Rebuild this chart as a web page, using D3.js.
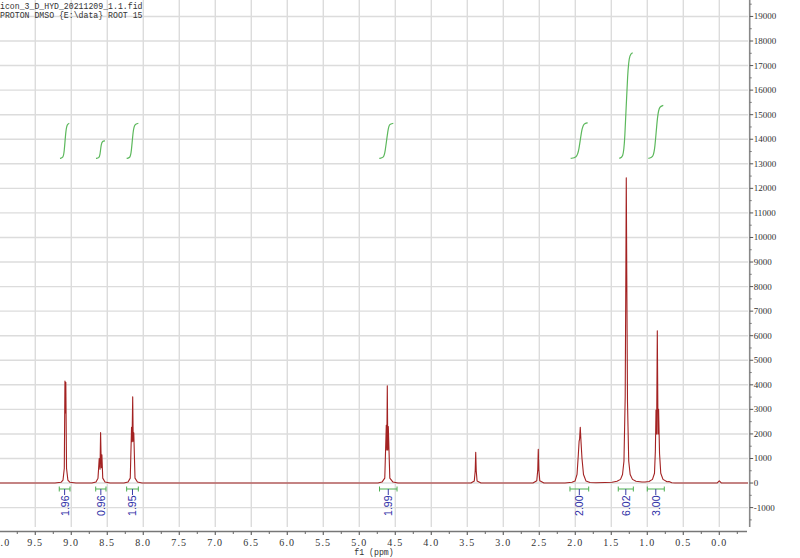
<!DOCTYPE html>
<html><head><meta charset="utf-8">
<script src="https://cdn.jsdelivr.net/npm/d3@7/dist/d3.min.js"></script>
<style>body{margin:0;background:#fff;} svg{display:block}</style>
</head><body><svg id="c" width="800" height="558"></svg>
<script>
// ---------- data ----------
const titleLines = ["icon_3_D_HYD_20211209_1.1.fid", "PROTON DMSO {E:\\data} ROOT 15"];
const xAxisTitle = "f1 (ppm)";
const ppmDomain = [9.99, -0.40];
const intensityDomain = [-1790, 19670];
const ppmMajorTicks = [10.0,9.5,9.0,8.5,8.0,7.5,7.0,6.5,6.0,5.5,5.0,4.5,4.0,3.5,3.0,2.5,2.0,1.5,1.0,0.5,0.0];
const ppmMinorTicks = [9.75,9.25,8.75,8.25,7.75,7.25,6.75,6.25,5.75,5.25,4.75,4.25,3.75,3.25,2.75,2.25,1.75,1.25,0.75,0.25,-0.25];
const intensityTicks = [-1000,0,1000,2000,3000,4000,5000,6000,7000,8000,9000,10000,11000,12000,13000,14000,15000,16000,17000,18000,19000];
const intensityMinorTicks = [-1500,-500,500,1500,2500,3500,4500,5500,6500,7500,8500,9500,10500,11500,12500,13500,14500,15500,16500,17500,18500,19500];

// spectrum trace (ppm, intensity)
const specPpm = [9.99,9.226,9.143,9.115,9.097,9.088,9.082,9.076,9.066,9.047,9.018,8.935,
 8.713,8.657,8.629,8.612,8.601,8.593,8.583,8.575,8.563,8.532,8.462,
 8.268,8.212,8.181,8.163,8.156,8.147,8.140,8.132,8.115,8.081,8.018,
 4.740,4.685,4.646,4.625,4.618,4.611,4.604,4.597,4.576,4.532,4.463,
 3.449,3.403,3.390,3.383,3.376,3.364,3.310,
 2.588,2.535,2.521,2.514,2.507,2.493,2.435,
 2.143,2.046,2.004,1.976,1.958,1.947,1.940,1.931,1.921,1.907,1.886,1.851,1.796,1.713,
 1.588,1.490,1.421,1.372,1.344,1.324,1.307,1.297,1.292,1.285,1.275,1.258,1.238,1.206,1.157,1.074,
 1.032,0.976,0.928,0.900,0.888,0.879,0.871,0.861,0.851,0.843,0.830,0.813,0.782,0.726,0.699,0.660,0.615,
 0.032,0.000,-0.031,-0.40];
const specIntensity = [0,0,30,120,600,4150,2850,4100,600,120,30,0,
 0,40,200,1000,560,2060,620,1150,200,40,0,
 0,40,200,2270,1680,3515,1700,2050,200,40,0,
 0,40,200,2350,1350,3960,1350,2300,200,40,0,
 0,80,500,1250,500,80,0,
 0,90,550,1372,550,90,0,
 0,30,80,350,1150,1700,1800,2268,1700,1000,350,80,20,10,
 20,30,70,150,350,900,3500,9000,12430,8500,3300,900,350,150,70,40,
 40,60,150,400,1300,2970,2000,6200,2000,3000,1200,400,150,50,60,10,0,
 0,90,0,0];

// integrals
const integralValues = ["1.96","0.96","1.95","1.99","2.00","6.02","3.00"];
const integralFrom = [9.167,8.661,8.231,4.719,2.074,1.403,1.000];
const integralTo   = [9.018,8.518,8.069,4.476,1.814,1.194,0.764];
const integralCurvePpm = [
 [9.157,9.115,9.099,9.076,9.057,9.028],
 [8.657,8.615,8.601,8.585,8.567,8.532],
 [8.231,8.185,8.167,8.140,8.118,8.069],
 [4.722,4.664,4.643,4.601,4.581,4.528],
 [2.064,1.983,1.951,1.910,1.879,1.828],
 [1.389,1.338,1.315,1.271,1.243,1.203],
 [0.986,0.921,0.896,0.857,0.829,0.778]];
const integralCurveValue = [
 [13220,13240,13424,14360,14617,14645],
 [13220,13236,13342,13810,13920,13937],
 [13220,13240,13424,14401,14621,14645],
 [13220,13244,13424,14421,14621,14645],
 [13220,13253,13505,14442,14645,14670],
 [13220,13281,13709,16966,17455,17520],
 [13220,13261,13546,15052,15337,15378]];

// ---------- drawing ----------
const svg = d3.select("#c");
const plotL = 0, plotR = 748.1, plotT = 0, plotB = 527;
const x = d3.scaleLinear().domain(ppmDomain).range([plotL, plotR]);
const y = d3.scaleLinear().domain(intensityDomain).range([plotB, plotT]);

svg.append("defs").append("clipPath").attr("id","clip")
  .append("rect").attr("x",plotL).attr("y",plotT).attr("width",plotR-plotL).attr("height",plotB-plotT);

// grid
const grid = svg.append("g").attr("stroke","#dcdcdc").attr("stroke-width",1.4);
grid.selectAll("line.v").data(ppmMajorTicks).join("line")
  .attr("x1",d=>x(d)).attr("x2",d=>x(d)).attr("y1",plotT).attr("y2",plotB);
grid.selectAll("line.h").data(intensityTicks).join("line")
  .attr("x1",plotL).attr("x2",plotR).attr("y1",d=>y(d)).attr("y2",d=>y(d));

// title
svg.append("g").selectAll("text").data(titleLines).join("text")
  .attr("x",0).attr("y",(d,i)=>8.5+i*9.7)
  .attr("font-family","Liberation Mono, monospace").attr("font-size",8.2)
  .attr("fill","#333").text(d=>d);

// spectrum
const specData = specPpm.map((p,i)=>[p,specIntensity[i]]);
svg.append("path").datum(specData)
  .attr("clip-path","url(#clip)")
  .attr("fill","none").attr("stroke","#a32222").attr("stroke-width",1.1)
  .attr("stroke-linejoin","round")
  .attr("d", d3.line().x(d=>x(d[0])).y(d=>y(d[1])));

// integral curves
const intLine = d3.line().x(d=>x(d[0])).y(d=>y(d[1])).curve(d3.curveBasis);
svg.append("g").selectAll("path").data(integralCurvePpm).join("path")
  .attr("fill","none").attr("stroke","#5cb85c").attr("stroke-width",1.2)
  .attr("d",(pp,k)=>intLine(pp.map((p,i)=>[p,integralCurveValue[k][i]])));

// integral brackets and labels
const brY = 489;
const br = svg.append("g");
integralValues.forEach((v,i)=>{
  const x0 = x(integralFrom[i]), x1 = x(integralTo[i]), cx = (x0+x1)/2;
  const g = br.append("g");
  g.append("line").attr("x1",x0).attr("x2",x1).attr("y1",brY).attr("y2",brY)
    .attr("stroke","#4caf50").attr("stroke-width",1);
  [x0,x1].forEach(xx=>g.append("line").attr("x1",xx).attr("x2",xx).attr("y1",brY-2.5).attr("y2",brY+2.5)
    .attr("stroke","#4caf50").attr("stroke-width",1));
  g.append("line").attr("x1",cx).attr("x2",cx).attr("y1",brY).attr("y2",brY+6)
    .attr("stroke","#3a3aa8").attr("stroke-width",1);
  g.append("text").attr("transform",`translate(${cx},${brY+6.5}) rotate(-90)`)
    .attr("text-anchor","end").attr("dominant-baseline","central")
    .attr("font-family","Liberation Sans, Arial, sans-serif").attr("font-size",10.5)
    .attr("fill","#2e2ea6").text(v);
});

// bottom axis
const axB = 531.5;
const ax = svg.append("g");
ax.append("line").attr("x1",0).attr("x2",747).attr("y1",axB).attr("y2",axB)
  .attr("stroke","#777").attr("stroke-width",1.4);
ax.selectAll("line.maj").data(ppmMajorTicks).join("line")
  .attr("x1",d=>x(d)).attr("x2",d=>x(d)).attr("y1",axB).attr("y2",axB+3.5)
  .attr("stroke","#666").attr("stroke-width",1.2);
ax.selectAll("line.min").data(ppmMinorTicks).join("line")
  .attr("x1",d=>x(d)).attr("x2",d=>x(d)).attr("y1",axB).attr("y2",axB+2.5)
  .attr("stroke","#666").attr("stroke-width",1);
ax.selectAll("text").data(ppmMajorTicks).join("text")
  .attr("x",d=>x(d)).attr("y",545.5).attr("text-anchor","middle")
  .attr("font-family","Liberation Serif, serif").attr("font-size",10)
  .attr("letter-spacing",1.2).attr("fill","#333")
  .text(d=>d3.format(".1f")(d));
svg.append("text").attr("x",374).attr("y",554.5).attr("text-anchor","middle")
  .attr("font-family","Liberation Mono, monospace").attr("font-size",8.2)
  .attr("fill","#333").attr("xml:space","preserve").text(xAxisTitle);

// right axis
const axR = 749.7;
const ay = svg.append("g");
ay.append("line").attr("x1",axR).attr("x2",axR).attr("y1",0).attr("y2",527)
  .attr("stroke","#888").attr("stroke-width",1.6);
ay.selectAll("line.maj").data(intensityTicks).join("line")
  .attr("x1",axR).attr("x2",axR+3.5).attr("y1",d=>y(d)).attr("y2",d=>y(d))
  .attr("stroke","#555").attr("stroke-width",1);
ay.selectAll("line.min").data(intensityMinorTicks).join("line")
  .attr("x1",axR).attr("x2",axR+2).attr("y1",d=>y(d)).attr("y2",d=>y(d))
  .attr("stroke","#777").attr("stroke-width",1);
ay.selectAll("text").data(intensityTicks).join("text")
  .attr("x",axR+4).attr("y",d=>y(d)).attr("dominant-baseline","central")
  .attr("font-family","Liberation Serif, serif").attr("font-size",9)
  .attr("fill","#333").text(d=>d<0?"-"+Math.abs(d):String(d));
</script></body></html>
